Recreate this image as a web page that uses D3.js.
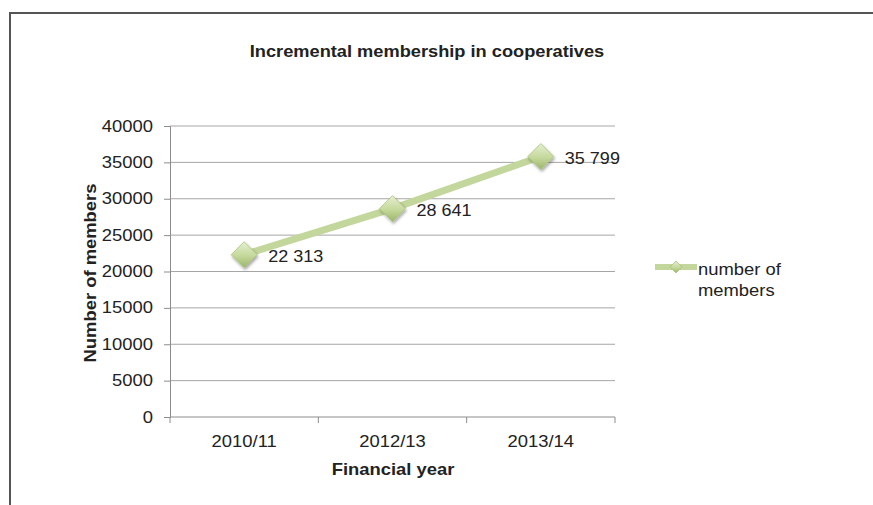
<!DOCTYPE html>
<html>
<head>
<meta charset="utf-8">
<script src="https://cdn.jsdelivr.net/npm/d3@7"></script>
<style>
  html, body { margin: 0; padding: 0; background: #fff; }
  svg { display: block; font-family: "Liberation Sans", Arial, sans-serif; }
</style>
</head>
<body>
<svg id="chart" width="873" height="505"></svg>
<script>
// Membership counts per financial year
const years = ["2010/11", "2012/13", "2013/14"];
const members = [22313, 28641, 35799];
const memberLabels = ["22 313", "28 641", "35 799"];
const yTicks = [0, 5000, 10000, 15000, 20000, 25000, 30000, 35000, 40000];
const seriesName = ["number of", "members"];

const svg = d3.select("#chart");
const plot = { left: 170, right: 615, top: 126, bottom: 417 };
const ink = "#222";
const SX = 1.15; // slightly wide lettering

// Text placed at (x, y) and stretched horizontally
function label(g, x, y, txt, opts = {}) {
  const s = opts.sx || SX;
  const rot = opts.rotate ? ` rotate(${opts.rotate})` : "";
  return g.append("text")
    .attr("transform", `translate(${x},${y})${rot} scale(${s},1)`)
    .attr("text-anchor", opts.anchor || "start")
    .attr("font-size", opts.size || 16)
    .attr("font-weight", opts.bold ? "bold" : "normal")
    .attr("fill", ink)
    .text(txt);
}

// Frame around the chart
svg.append("path")
  .attr("d", "M10,505 L10,13 L873,13")
  .attr("fill", "none").attr("stroke", "#555").attr("stroke-width", 2);

const x = d3.scaleBand().domain(years).range([plot.left, plot.right]);
const y = d3.scaleLinear().domain([0, 40000]).range([plot.bottom, plot.top]);

// Gradient + shadow for diamond markers
const defs = svg.append("defs");
const grad = defs.append("linearGradient").attr("id", "mk")
  .attr("x1", "0").attr("y1", "0").attr("x2", "0").attr("y2", "1");
grad.append("stop").attr("offset", "0%").attr("stop-color", "#e6efd2");
grad.append("stop").attr("offset", "55%").attr("stop-color", "#c4d89a");
grad.append("stop").attr("offset", "100%").attr("stop-color", "#9bb56a");
const sh = defs.append("filter").attr("id", "sh").attr("x", "-50%").attr("y", "-50%").attr("width", "200%").attr("height", "200%");
sh.append("feDropShadow").attr("dx", 1).attr("dy", 2).attr("stdDeviation", 1.5)
  .attr("flood-color", "#000").attr("flood-opacity", 0.35);

// Horizontal gridlines
svg.append("g").selectAll("line").data(yTicks.filter(d => d > 0)).join("line")
  .attr("x1", plot.left).attr("x2", plot.right)
  .attr("y1", d => y(d)).attr("y2", d => y(d))
  .attr("stroke", "#a6a6a6").attr("stroke-width", 1);

// Y axis
const yAxis = svg.append("g").attr("transform", `translate(${plot.left},0)`)
  .call(d3.axisLeft(y).tickValues(yTicks).tickSize(6).tickFormat(""));
yAxis.select(".domain").attr("stroke", "#8c8c8c");
yAxis.selectAll(".tick line").attr("stroke", "#8c8c8c");
const yLab = svg.append("g");
yTicks.forEach(v => label(yLab, plot.left - 17, y(v) + 5.5, d3.format("d")(v), { anchor: "end" }));

// X axis with ticks at band boundaries
const xAxisG = svg.append("g").attr("transform", `translate(0,${plot.bottom})`);
xAxisG.append("line").attr("x1", plot.left).attr("x2", plot.right)
  .attr("stroke", "#8c8c8c");
const bounds = years.map(d => x(d)).concat([plot.right]);
xAxisG.selectAll("line.tk").data(bounds).join("line").attr("class", "tk")
  .attr("x1", d => d).attr("x2", d => d).attr("y1", 0).attr("y2", 6)
  .attr("stroke", "#8c8c8c");
const xLab = svg.append("g");
years.forEach(d => label(xLab, x(d) + x.bandwidth() / 2, plot.bottom + 30, d, { anchor: "middle" }));

// Titles
label(svg, 427, 57, "Incremental membership in cooperatives", { anchor: "middle", size: 16, bold: true, sx: 1.14 });
label(svg, 393, 475, "Financial year", { anchor: "middle", bold: true });
label(svg, 96, 273, "Number of members", { anchor: "middle", bold: true, rotate: -90 });

// Series line
const pts = years.map((d, i) => [x(d) + x.bandwidth() / 2, y(members[i])]);
svg.append("path").datum(pts)
  .attr("d", d3.line())
  .attr("fill", "none").attr("stroke", "#c3d69b").attr("stroke-width", 7)
  .attr("stroke-linejoin", "round");

const diamond = (cx, cy, r) => `M${cx},${cy - r} L${cx + r},${cy} L${cx},${cy + r} L${cx - r},${cy} Z`;
svg.append("g").selectAll("path").data(pts).join("path")
  .attr("d", d => diamond(d[0], d[1], 13))
  .attr("fill", "url(#mk)").attr("stroke", "#a9c27a").attr("stroke-width", 0.8)
  .attr("filter", "url(#sh)");

// Value labels
const vLab = svg.append("g");
pts.forEach((p, i) => label(vLab, p[0] + 24, p[1] + 7, memberLabels[i], { size: 17, sx: 1.06 }));

// Legend
const lg = svg.append("g");
lg.append("line").attr("x1", 655).attr("x2", 697).attr("y1", 267).attr("y2", 267)
  .attr("stroke", "#c3d69b").attr("stroke-width", 6);
lg.append("path").attr("d", diamond(676, 267, 6))
  .attr("fill", "url(#mk)").attr("stroke", "#a9c27a").attr("stroke-width", 0.8);
seriesName.forEach((t, i) => label(lg, 698, 275 + i * 21, t));
</script>
</body>
</html>
